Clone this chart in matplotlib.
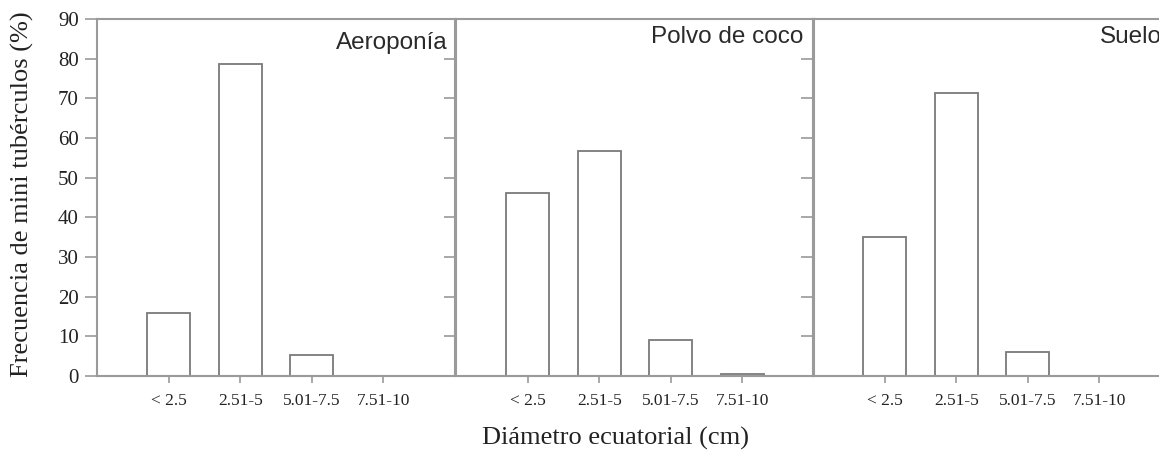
import matplotlib.pyplot as plt
import numpy as np

# size classes of the equatorial diameter (cm)
categories = ["< 2.5", "2.51-5", "5.01-7.5", "7.51-10"]
panel_names = ["Aeroponía", "Polvo de coco", "Suelo"]

# frequency of minitubers (%) per panel
aeroponia = [15.8, 78.6, 5.2, 0.0]
polvo_coco = [46.2, 56.7, 9.0, 0.5]
suelo = [35.0, 71.3, 6.1, 0.0]

yticks = [0, 10, 20, 30, 40, 50, 60, 70, 80, 90]

serif = "Liberation Serif"
sans = "Liberation Sans"
spine_col = "#9a9a9a"
edge_col = "#7a7a7a"

fig = plt.figure(figsize=(11.59, 4.51), dpi=100)

W = 1159.0
H = 451.0
lefts = [97, 456, 813]
width = 358
bottom = (H - 376) / H
height = 357 / H

title_pos = [(0.98, 0.916), (0.969, 0.933), (0.975, 0.933)]

x = np.arange(len(categories))
for i, (name, vals) in enumerate(zip(panel_names, [aeroponia, polvo_coco, suelo])):
    ax = fig.add_axes([lefts[i] / W, bottom, width / W, height])
    ax.bar(x, vals, width=0.6, color="white", edgecolor=edge_col, linewidth=1.3, zorder=2)
    ax.set_xlim(-1, 4)
    ax.set_ylim(0, 90)
    ax.set_xticks(x)
    ax.set_xticklabels(categories, fontfamily=serif, fontsize=12.5, color="#222222")
    ax.set_yticks(yticks)
    if i == 0:
        ax.set_yticklabels([str(t) for t in yticks], fontfamily=serif, fontsize=15, color="#222222")
    else:
        ax.set_yticklabels([])
    ax.tick_params(axis="y", direction="out", length=9, width=1.2, color=spine_col, pad=4)
    ax.tick_params(axis="x", direction="out", length=5, width=1.2, color=spine_col, pad=7)
    for s in ax.spines.values():
        s.set_color(spine_col)
        s.set_linewidth(1.5)
    ax.patch.set_alpha(0)
    tx, ty = title_pos[i]
    # the last title runs past the right edge, as in the cropped original
    ax.text(tx, ty, name, transform=ax.transAxes, ha="right", va="baseline",
            fontfamily=sans, fontsize=17.5, color="#2a2a2a")

fig.text(22 / W, 0.57, "Frecuencia de mini tubérculos (%)", rotation=90,
         ha="center", va="center", fontfamily=serif, fontsize=19, color="#222222")
fig.text(615 / W, 6 / H, "Diámetro ecuatorial (cm)", ha="center", va="baseline",
         fontfamily=serif, fontsize=19, color="#222222")

fig.savefig("out.png", dpi=100)
